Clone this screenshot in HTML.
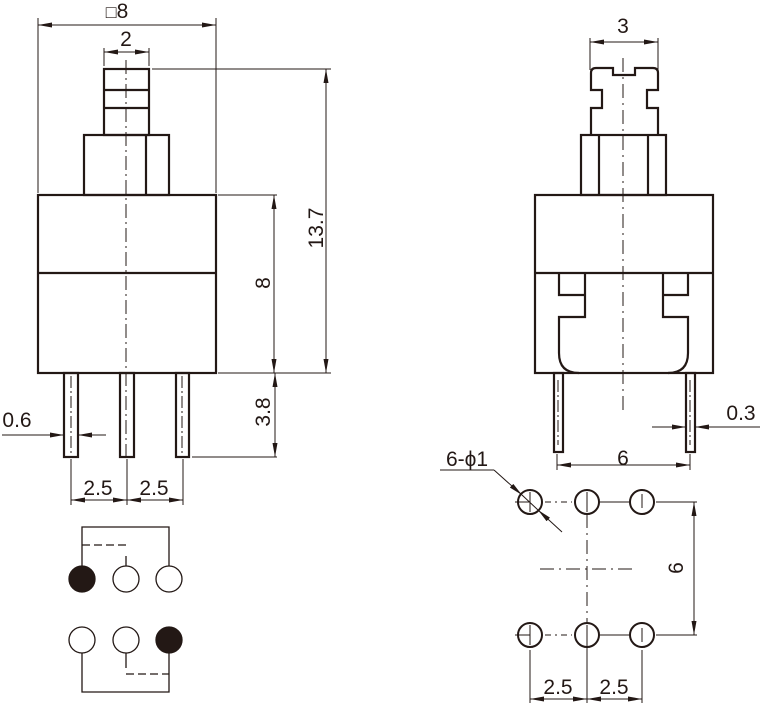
<!DOCTYPE html>
<html><head><meta charset="utf-8"><style>
html,body{margin:0;padding:0;background:#fff;}
svg{display:block;}
text{font-family:"Liberation Sans",Arial,sans-serif;fill:#231815;}
</style></head><body>
<svg width="760" height="703" viewBox="0 0 760 703" xmlns="http://www.w3.org/2000/svg">
<defs>
<marker id="a" viewBox="0 0 14 5" refX="14" refY="2.5" markerWidth="14" markerHeight="5" orient="auto-start-reverse" markerUnits="userSpaceOnUse">
<path d="M0,0 L14,2.5 L0,5 z" fill="#231815"/></marker>
</defs>
<g stroke="#231815" fill="none">
<!-- LEFT VIEW -->
<g stroke-width="2.2">
<rect x="104" y="69" width="45" height="66"/>
<line x1="104" y1="90" x2="149" y2="90"/>
<line x1="104" y1="108" x2="149" y2="108"/>
<rect x="84" y="135" width="85" height="60"/>
<line x1="146" y1="135" x2="146" y2="195"/>
<rect x="38" y="195" width="178" height="178"/>
<line x1="38" y1="273" x2="216" y2="273"/>
<rect x="64" y="373" width="14" height="84"/>
<rect x="120" y="373" width="14" height="84"/>
<rect x="176" y="373" width="13" height="84"/>
</g>
<g stroke-width="1">
<line x1="126" y1="60" x2="126" y2="458" stroke-dasharray="14,4,2,4"/>
<line x1="71" y1="376" x2="71" y2="455" stroke-dasharray="12,3,2,3"/>
<line x1="182" y1="376" x2="182" y2="455" stroke-dasharray="12,3,2,3"/>
<line x1="38" y1="18" x2="38" y2="193"/>
<line x1="216" y1="18" x2="216" y2="193"/>
<line x1="38" y1="25" x2="216" y2="25" marker-start="url(#a)" marker-end="url(#a)"/>
<line x1="104" y1="48" x2="104" y2="66"/>
<line x1="149" y1="48" x2="149" y2="66"/>
<line x1="104" y1="52" x2="149" y2="52" marker-start="url(#a)" marker-end="url(#a)"/>
<line x1="152" y1="69" x2="331" y2="69"/>
<line x1="326" y1="69" x2="326" y2="373" marker-start="url(#a)" marker-end="url(#a)"/>
<line x1="218" y1="195" x2="277" y2="195"/>
<line x1="274" y1="195" x2="274" y2="373" marker-start="url(#a)" marker-end="url(#a)"/>
<line x1="218" y1="373" x2="331" y2="373"/>
<line x1="275" y1="373" x2="275" y2="457" marker-start="url(#a)" marker-end="url(#a)"/>
<line x1="192" y1="457" x2="277" y2="457"/>
<line x1="2" y1="435" x2="64" y2="435" marker-end="url(#a)"/>
<line x1="106" y1="435" x2="78" y2="435" marker-end="url(#a)"/>
<line x1="71" y1="459" x2="71" y2="505"/>
<line x1="127" y1="459" x2="127" y2="505"/>
<line x1="183" y1="459" x2="183" y2="505"/>
<line x1="71" y1="500" x2="127" y2="500" marker-start="url(#a)" marker-end="url(#a)"/>
<line x1="127" y1="500" x2="183" y2="500" marker-start="url(#a)" marker-end="url(#a)"/>
</g>
<!-- RIGHT VIEW -->
<g stroke-width="2.2">
<path d="M591,135 L591,108 L602,108 L602,90 L591,90 L591,73 Q591,68 596,68 L613,68 L613,75 L635,75 L635,68 L653,68 Q658,68 658,73 L658,90 L647,90 L647,108 L658,108 L658,135"/>
<rect x="581" y="135" width="85" height="60"/>
<line x1="599" y1="135" x2="599" y2="195"/>
<line x1="648" y1="135" x2="648" y2="195"/>
<rect x="535" y="195" width="178" height="178"/>
<line x1="535" y1="273" x2="713" y2="273"/>
<path d="M559,273 L559,295 L585,295 M585,273 L585,317 L559,317 L559,353 Q559,373 579,373"/>
<path d="M688,273 L688,295 L663,295 M663,273 L663,317 L688,317 L688,353 Q688,373 668,373"/>
<rect x="554" y="373" width="9" height="79"/>
<rect x="686" y="373" width="9" height="79"/>
</g>
<g stroke-width="1">
<line x1="623" y1="58" x2="623" y2="415" stroke-dasharray="14,5,2,5"/>
<line x1="558" y1="380" x2="558" y2="445" stroke-dasharray="12,3,2,3"/>
<line x1="690" y1="380" x2="690" y2="445" stroke-dasharray="12,3,2,3"/>
<line x1="590" y1="38" x2="590" y2="70"/>
<line x1="658" y1="38" x2="658" y2="70"/>
<line x1="590" y1="42" x2="658" y2="42" marker-start="url(#a)" marker-end="url(#a)"/>
<line x1="557" y1="454" x2="557" y2="470"/>
<line x1="690" y1="454" x2="690" y2="470"/>
<line x1="557" y1="465" x2="690" y2="465" marker-start="url(#a)" marker-end="url(#a)"/>
<line x1="652" y1="427" x2="686" y2="427" marker-end="url(#a)"/>
<line x1="760" y1="427" x2="695" y2="427" marker-end="url(#a)"/>
</g>
<!-- LEFT SCHEMATIC -->
<g stroke-width="1.3">
<path d="M82,566 L82,527 L169,527 L169,566"/>
<line x1="82" y1="545" x2="126" y2="545" stroke-dasharray="8,4"/>
<line x1="126" y1="556" x2="126" y2="566"/>
<circle cx="82" cy="579" r="13" fill="#231815"/>
<circle cx="126" cy="579" r="13"/>
<circle cx="169" cy="579" r="13"/>
<circle cx="82" cy="640" r="13"/>
<circle cx="126" cy="640" r="13"/>
<circle cx="169" cy="640" r="13" fill="#231815"/>
<path d="M82,653 L82,692 L169,692 L169,653"/>
<line x1="126" y1="653" x2="126" y2="668"/>
<line x1="126" y1="674" x2="169" y2="674" stroke-dasharray="8,4"/>
</g>
<!-- RIGHT FOOTPRINT -->
<g stroke-width="2">
<circle cx="530" cy="502" r="12"/><circle cx="587" cy="502" r="12"/><circle cx="642" cy="502" r="12"/>
<circle cx="530" cy="635" r="12"/><circle cx="587" cy="635" r="12"/><circle cx="642" cy="635" r="12"/>
</g>
<g stroke-width="1">
<line x1="515" y1="502" x2="530" y2="502"/>
<line x1="545" y1="502" x2="572" y2="502" stroke-dasharray="6,4,2,4"/>
<line x1="600" y1="502" x2="629" y2="502"/>
<line x1="656" y1="502" x2="697" y2="502"/>
<line x1="515" y1="635" x2="530" y2="635"/>
<line x1="545" y1="635" x2="572" y2="635" stroke-dasharray="6,4,2,4"/>
<line x1="600" y1="635" x2="629" y2="635"/>
<line x1="656" y1="635" x2="697" y2="635"/>
<line x1="530" y1="492" x2="530" y2="512"/><line x1="587" y1="492" x2="587" y2="512"/><line x1="642" y1="494" x2="642" y2="508"/>
<line x1="530" y1="625" x2="530" y2="645"/><line x1="587" y1="625" x2="587" y2="703"/><line x1="642" y1="628" x2="642" y2="642"/>
<line x1="587" y1="514" x2="587" y2="622" stroke-dasharray="14,5,2,5"/>
<line x1="540" y1="569" x2="634" y2="569" stroke-dasharray="14,5,2,5"/>
<line x1="694" y1="502" x2="694" y2="635" marker-start="url(#a)" marker-end="url(#a)"/>
<line x1="440" y1="470" x2="494" y2="470"/>
<line x1="494" y1="470" x2="522" y2="495" marker-end="url(#a)"/>
<line x1="562" y1="532" x2="538" y2="510" marker-end="url(#a)"/>
<line x1="522" y1="495" x2="538" y2="510"/>
<line x1="530" y1="650" x2="530" y2="703"/>
<line x1="642" y1="650" x2="642" y2="703"/>
<line x1="530" y1="699" x2="587" y2="699" marker-start="url(#a)" marker-end="url(#a)"/>
<line x1="587" y1="699" x2="642" y2="699" marker-start="url(#a)" marker-end="url(#a)"/>
</g>
</g>
<!-- TEXT -->
<g font-size="21" text-anchor="middle">
<text x="117" y="18"><tspan font-size="18">□</tspan>8</text>
<text x="126" y="46">2</text>
<text transform="translate(323,228) rotate(-90)">13.7</text>
<text transform="translate(270,283) rotate(-90)">8</text>
<text transform="translate(270,412) rotate(-90)">3.8</text>
<text x="17" y="427">0.6</text>
<text x="98" y="495">2.5</text>
<text x="154" y="495">2.5</text>
<text x="623" y="33">3</text>
<text x="623" y="465">6</text>
<text x="741" y="420">0.3</text>
<text x="467" y="466">6-ϕ1</text>
<text transform="translate(683,568) rotate(-90)">6</text>
<text x="558" y="694">2.5</text>
<text x="614" y="694">2.5</text>
</g>
</svg>
</body></html>
